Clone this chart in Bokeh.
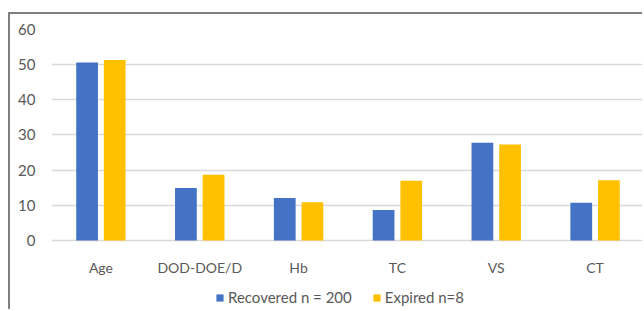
from bokeh.plotting import figure
from bokeh.models import ColumnDataSource, Legend, LegendItem, FactorRange, Range1d
from bokeh.transform import dodge
from bokeh.embed import file_html
from bokeh.resources import INLINE

categories = ["Age", "DOD-DOE/D", "Hb", "TC", "VS", "CT"]
recovered = [50.6, 14.9, 12.1, 8.7, 27.8, 10.7]
expired = [51.3, 18.7, 10.9, 17.0, 27.3, 17.1]
series_names = ["Recovered n = 200", "Expired n=8"]
y_ticks = [0, 10, 20, 30, 40, 50, 60]

src = ColumnDataSource(dict(cat=categories, rec=recovered, exp=expired))

FONT = "Lato"
GRAY = "#595959"

# frame runs to the canvas bottom so the legend (inside the frame) is not clipped
p = figure(x_range=FactorRange(*categories, range_padding=0), y_range=Range1d(-20.19, 60),
           width=634, height=297, output_backend="svg", toolbar_location=None,
           min_border_left=41, min_border_right=0, min_border_top=15, min_border_bottom=0)
p.styles = {"border-left": "2px solid #7f7f7f", "border-top": "2px solid #7f7f7f",
            "margin-top": "12px", "margin-left": "8px"}
p.outline_line_color = None
p.background_fill_color = "white"
p.border_fill_color = "white"

r1 = p.vbar(x=dodge("cat", -0.14, range=p.x_range), top="rec", width=0.22, source=src,
            fill_color="#4472C4", line_color=None)
r2 = p.vbar(x=dodge("cat", 0.14, range=p.x_range), top="exp", width=0.22, source=src,
            fill_color="#FFC000", line_color=None)

p.xgrid.grid_line_color = None
p.ygrid.grid_line_color = "#d9d9d9"
p.ygrid.grid_line_width = 1.5
p.ygrid.ticker = y_ticks
p.yaxis.ticker = y_ticks
p.xaxis.fixed_location = 0

for ax in (p.xaxis[0], p.yaxis[0]):
    ax.axis_line_color = None
    ax.major_tick_line_color = None
    ax.minor_tick_line_color = None
    ax.major_label_text_font = FONT
    ax.major_label_text_color = GRAY
p.xaxis.major_label_text_font_size = "14px"
p.yaxis.major_label_text_font_size = "15px"
p.xaxis.major_label_standoff = 13
p.yaxis.major_label_standoff = 10

legend = Legend(items=[LegendItem(label=series_names[0], renderers=[r1]),
                       LegendItem(label=series_names[1], renderers=[r2])],
                orientation="horizontal", location=(164, 5))
legend.label_text_font = FONT
legend.label_text_font_size = "15px"
legend.label_text_color = GRAY
legend.glyph_width = 9
legend.glyph_height = 9
legend.label_standoff = 4
legend.spacing = 20
legend.padding = 0
legend.margin = 0
legend.border_line_color = None
legend.background_fill_alpha = 0
p.add_layout(legend, "center")

open("out.html", "w").write(file_html(p, INLINE))
